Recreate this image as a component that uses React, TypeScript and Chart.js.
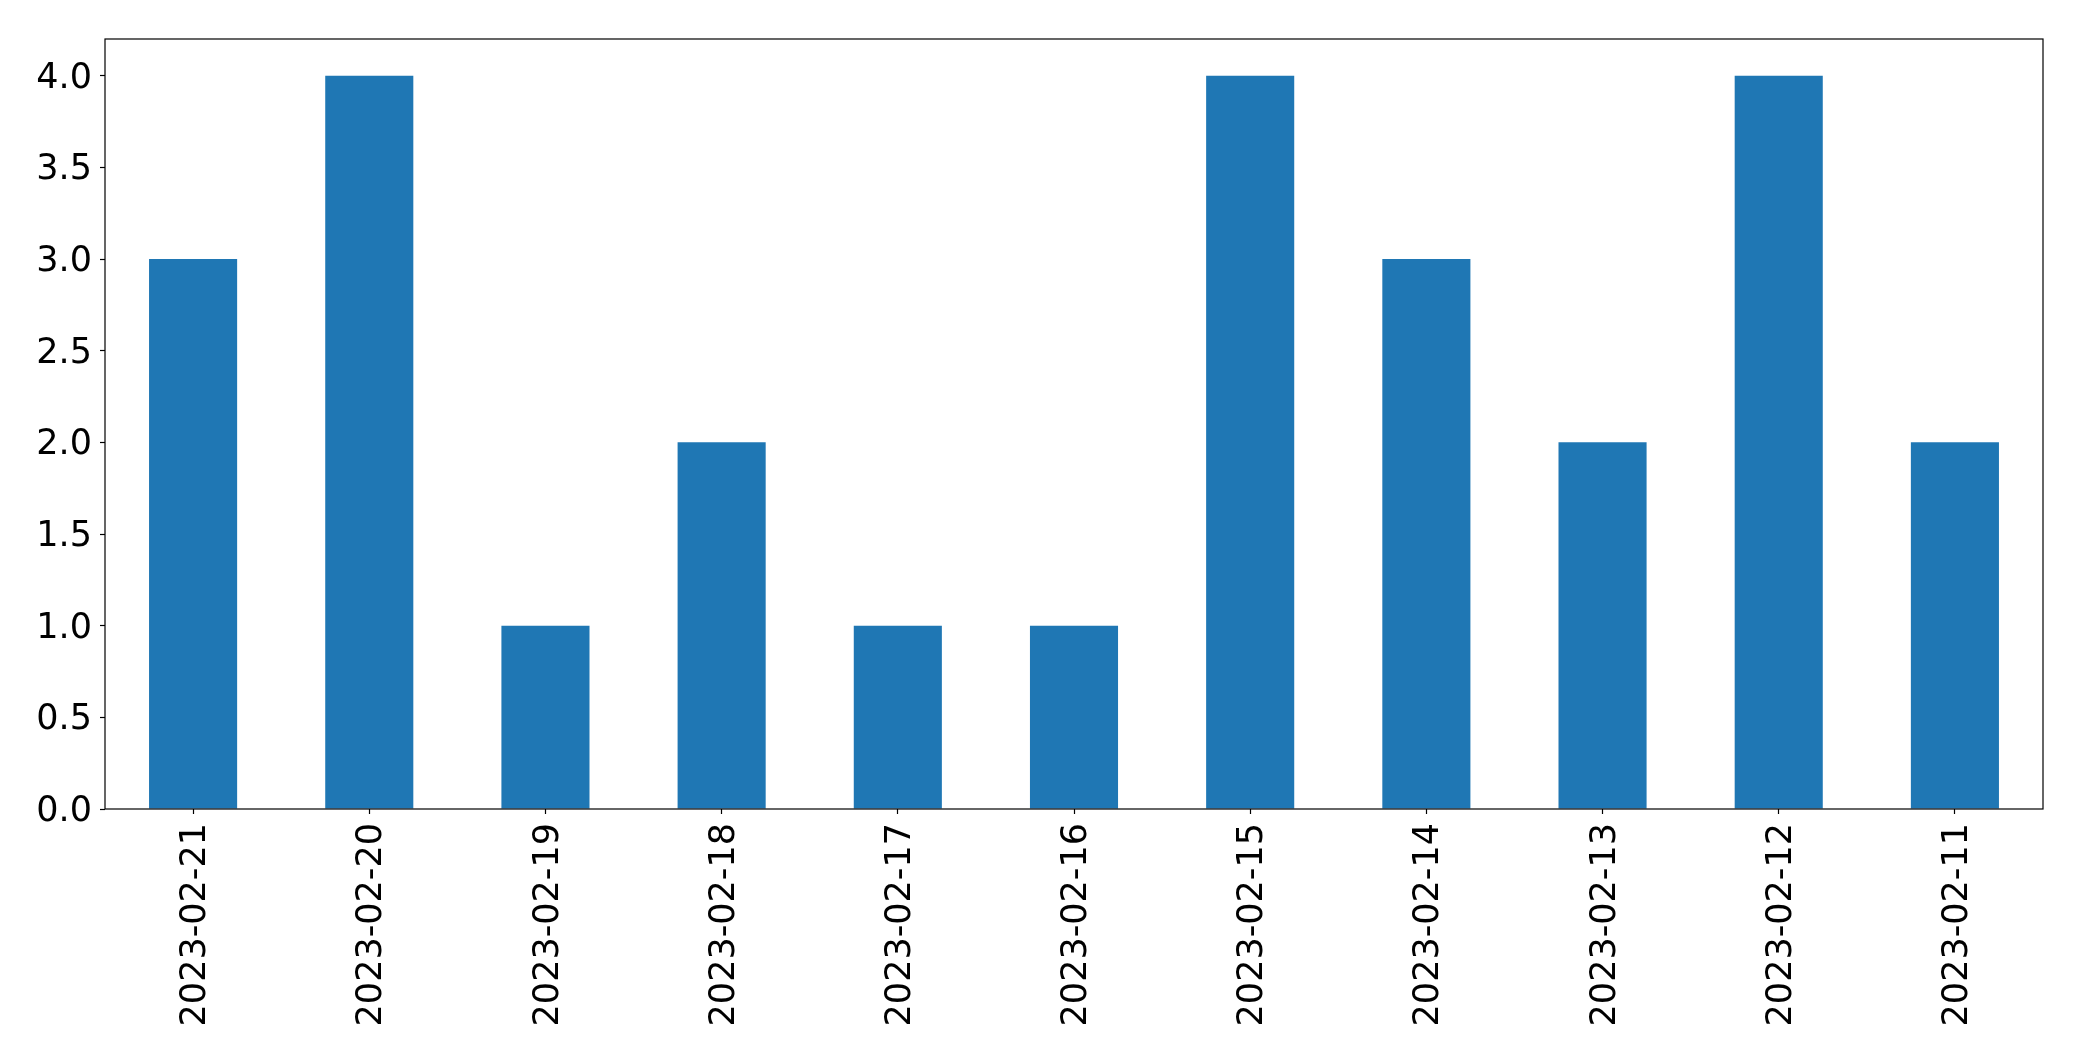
import React, { useEffect, useRef } from "react";
import { Chart, registerables } from "chart.js";

Chart.register(...registerables);

const categories = [
  "2023-02-21",
  "2023-02-20",
  "2023-02-19",
  "2023-02-18",
  "2023-02-17",
  "2023-02-16",
  "2023-02-15",
  "2023-02-14",
  "2023-02-13",
  "2023-02-12",
  "2023-02-11",
];
const counts = [3, 4, 1, 2, 1, 1, 4, 3, 2, 4, 2];
const yTickValues = [0, 0.5, 1, 1.5, 2, 2.5, 3, 3.5, 4];
const yMax = 4.2;

const W = 2082;
const H = 1061;
const FONT = "'DejaVu Sans', sans-serif";

const framePlugin = {
  id: "frame",
  afterDatasetsDraw(chart: any) {
    const { ctx, chartArea } = chart;
    ctx.save();
    ctx.strokeStyle = "#000";
    ctx.lineWidth = 1.2;
    ctx.strokeRect(
      chartArea.left,
      chartArea.top,
      chartArea.right - chartArea.left,
      chartArea.bottom - chartArea.top
    );
    ctx.restore();
  },
};

export default function App() {
  const ref = useRef<HTMLCanvasElement | null>(null);

  useEffect(() => {
    if (!ref.current) return;
    const chart = new Chart(ref.current, {
      type: "bar",
      data: {
        labels: categories,
        datasets: [
          {
            data: counts,
            backgroundColor: "#1f77b4",
            borderWidth: 0,
            barPercentage: 0.5,
            categoryPercentage: 1,
          },
        ],
      },
      options: {
        responsive: false,
        animation: false,
        devicePixelRatio: 1,
        layout: { padding: { left: 0, top: 39, right: 39, bottom: 0 } },
        plugins: {
          legend: { display: false },
          tooltip: { enabled: false },
        },
        scales: {
          x: {
            offset: true,
            grid: {
              offset: false,
              drawOnChartArea: false,
              drawTicks: true,
              tickLength: 5,
              tickWidth: 1.2,
              tickColor: "#000",
            },
            border: { display: false },
            ticks: {
              color: "#000",
              font: { family: FONT, size: 35 },
              minRotation: 90,
              maxRotation: 90,
              padding: 9,
              labelOffset: 3,
              autoSkip: false,
            },
            afterFit: (scale: any) => {
              scale.height = H - 809;
            },
          },
          y: {
            min: 0,
            max: yMax,
            grid: {
              drawOnChartArea: false,
              drawTicks: true,
              tickLength: 5,
              tickWidth: 1.2,
              tickColor: "#000",
            },
            border: { display: false },
            ticks: {
              color: "#000",
              font: { family: FONT, size: 35 },
              padding: 8,
              labelOffset: 3,
              callback: (v: any) => Number(v).toFixed(1),
            },
            afterBuildTicks: (scale: any) => {
              scale.ticks = yTickValues.map((v) => ({ value: v }));
            },
            afterFit: (scale: any) => {
              scale.width = 105;
            },
          },
        },
      },
      plugins: [framePlugin],
    });
    return () => chart.destroy();
  }, []);

  return (
    <div style={{ position: "fixed", left: 0, top: 0, width: W, height: H, background: "#fff" }}>
      <canvas ref={ref} width={W} height={H} style={{ display: "block" }} />
    </div>
  );
}
